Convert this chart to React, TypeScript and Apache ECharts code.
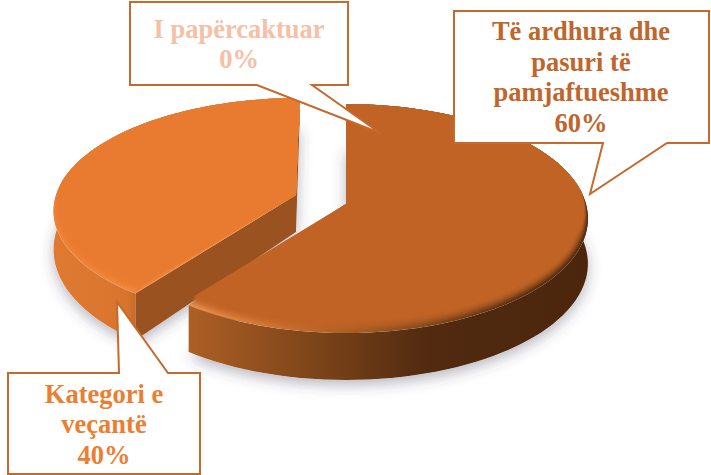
import React, { useEffect, useRef } from "react";
import * as echarts from "echarts";

const categories = ["Të ardhura dhe\npasuri të\npamjaftueshme", "Kategori e\nveçantë", "I papërcaktuar"];
const shares = [60, 40, 0];
const textColors = ["#C0652B", "#ED7D31", "#F6C0A6"];

const SEG = 90;
const K = 0.1266;
const R = 240;
const TILT = [112.7, 109.3, 110];
const TILT_LOW = [114.4, 120, 118];
const APEX = [[346, 204], [296, 195], [320, 200]];
const SHEAR = [0, 0.036, 0];
const DEPTH = [45, 37, 37];
const BEVEL_STEPS = [[0.25, 0.3], [0.45, 0.4], [0.65, 0.5], [0.85, 0.7], [1.05, 1]];

const TOP = ["#C06325", "#E97B30", "#A5A5A5"];
const RIM = [
  [[0, "#E8914F"], [0.22, "#CE7030"], [0.55, "#8F4F1E"], [0.8, "#633312"], [1, "#5A2E10"]],
  [[0, "#EE843A"], [0.6, "#F08A40"], [1, "#F58D42"]],
  [[0, "#A5A5A5"], [1, "#A5A5A5"]],
];
const WALL = [
  [[0, "#AD5F25"], [0.3, "#7F461A"], [0.6, "#512A10"], [1, "#4B260D"]],
  [[0, "#DF7A32"], [0.3, "#D9742D"], [0.36, "#B8641F"], [1, "#B8641F"]],
  [[0, "#A5A5A5"], [1, "#A5A5A5"]],
];
const FACE = ["#A55C24", "#9A5220", "#A5A5A5"];

const CALLOUTS = [
  { box: [454, 11, 709, 143], tail: [[667, 143], [590, 194], [603, 143]], cx: 581, cy: 77, size: 26.5 },
  { box: [8, 373, 200, 474], tail: [[119, 373], [117, 302], [168, 373]], cx: 104, cy: 424, size: 26.5 },
  { box: [130, 2, 348, 85], tail: [[312, 85], [380, 133], [257, 85]], cx: 239, cy: 44, size: 26.5 },
];

const toRad = (d: number) => (d * Math.PI) / 180;

function project(i: number, deg: number, low: boolean) {
  const t = toRad(deg);
  const s = 1 / (1 + K * Math.cos(t));
  const q = low ? TILT_LOW[i] : TILT[i];
  const ay = APEX[i][1] + (low ? DEPTH[i] : 0);
  const x = APEX[i][0] + R * Math.sin(t) * s + SHEAR[i] * TILT[i] * Math.cos(t) * s;
  const y = ay - q * Math.cos(t) * s;
  return [x, y];
}

function arc(i: number, a: number, b: number, low: boolean) {
  const pts: number[][] = [];
  for (let n = 0; n <= SEG; n++) pts.push(project(i, a + ((b - a) * n) / SEG, low));
  return pts;
}

function insetArc(i: number, a: number, b: number, w: number) {
  const pts: number[][] = [];
  for (let n = 0; n <= SEG; n++) {
    const d = a + ((b - a) * n) / SEG;
    const [x, y] = project(i, d, false);
    const c = Math.cos(toRad(d));
    const f = Math.max(0, Math.min(1, (0.1 - c) / 0.4)) * w;
    pts.push([x - 8 * Math.sin(toRad(d)) * f, y - 11 * Math.max(0, -c) * f]);
  }
  return pts;
}

const gradH = (stops: any[]) =>
  new echarts.graphic.LinearGradient(0, 0, 1, 0, stops.map(([offset, color]) => ({ offset, color })));

export default function App() {
  const ref = useRef<HTMLDivElement>(null);
  useEffect(() => {
    const chart = echarts.init(ref.current!, null, { renderer: "svg" });
    const total = shares.reduce((a, b) => a + b, 0);
    const data = shares.map((v) => [v]);

    const renderItem = (params: any, api: any) => {
      const i = params.dataIndex;
      const value = api.value(0);
      if (!value) return { type: "group", children: [] };
      const before = shares.slice(0, i).reduce((a, b) => a + b, 0);
      const a = (before / total) * 360;
      const b = ((before + value) / total) * 360;
      const base = i === 0 ? 20 : 0;
      const top = arc(i, a, b, false);
      const low = arc(i, a, b, true);
      const apexTop = APEX[i];
      const apexLow = [APEX[i][0], APEX[i][1] + DEPTH[i]];
      const body = [...top, ...low.slice().reverse()];
      const footprint = [apexLow, ...low];
      const endFace = [apexTop, top[SEG], low[SEG], apexLow];
      const startFace = [apexTop, top[0], low[0], apexLow];
      const children: any[] = [
        {
          type: "polygon",
          z2: 0,
          shape: { points: footprint },
          style: { fill: "#ffffff", shadowBlur: 14, shadowColor: "rgba(60,60,90,0.38)", shadowOffsetY: 5, shadowOffsetX: 0 },
        },
        { type: "polygon", z2: base + 1, shape: { points: startFace }, style: { fill: FACE[i] } },
        { type: "polygon", z2: base + 2, shape: { points: endFace }, style: { fill: FACE[i] } },
        { type: "polygon", z2: base + 3, shape: { points: body }, style: { fill: gradH(WALL[i]) } },
        { type: "polygon", z2: base + 4, shape: { points: [apexTop, ...top] }, style: { fill: gradH(RIM[i]) } },
        ...BEVEL_STEPS.map(([w, opacity], n) => ({
          type: "polygon",
          z2: base + 5 + n,
          shape: { points: [apexTop, ...insetArc(i, a, b, w)] },
          style: { fill: TOP[i], opacity },
        })),
      ];
      return { type: "group", children };
    };

    const graphic = CALLOUTS.map((c, i) => {
      const [x0, y0, x1, y1] = c.box;
      const bottomTail = c.tail[0][1] === y1;
      const pts = bottomTail
        ? [[x0, y0], [x1, y0], [x1, y1], ...c.tail, [x0, y1]]
        : [[x0, y0], c.tail[0], c.tail[1], c.tail[2], [x1, y0], [x1, y1], [x0, y1]];
      return {
        type: "group",
        children: [
          {
            type: "polygon",
            shape: { points: pts },
            style: { fill: "#ffffff", stroke: "#C5692C", lineWidth: 2 },
            z: 20,
          },
          {
            type: "text",
            x: c.cx,
            y: c.cy,
            z: 21,
            style: {
              text: `${categories[i]}\n${shares[i]}%`,
              font: `bold ${c.size}px "Liberation Serif"`,
              fill: textColors[i],
              align: "center",
              verticalAlign: "middle",
              lineHeight: 30.5,
            },
          },
        ],
      };
    });

    chart.setOption({
      animation: false,
      backgroundColor: "#ffffff",
      series: [{ type: "custom", coordinateSystem: "none", renderItem, data, silent: true, clip: false }],
      graphic,
    });
    return () => chart.dispose();
  }, []);
  return <div ref={ref} style={{ position: "fixed", left: 0, top: 0, width: 711, height: 475 }} />;
}
